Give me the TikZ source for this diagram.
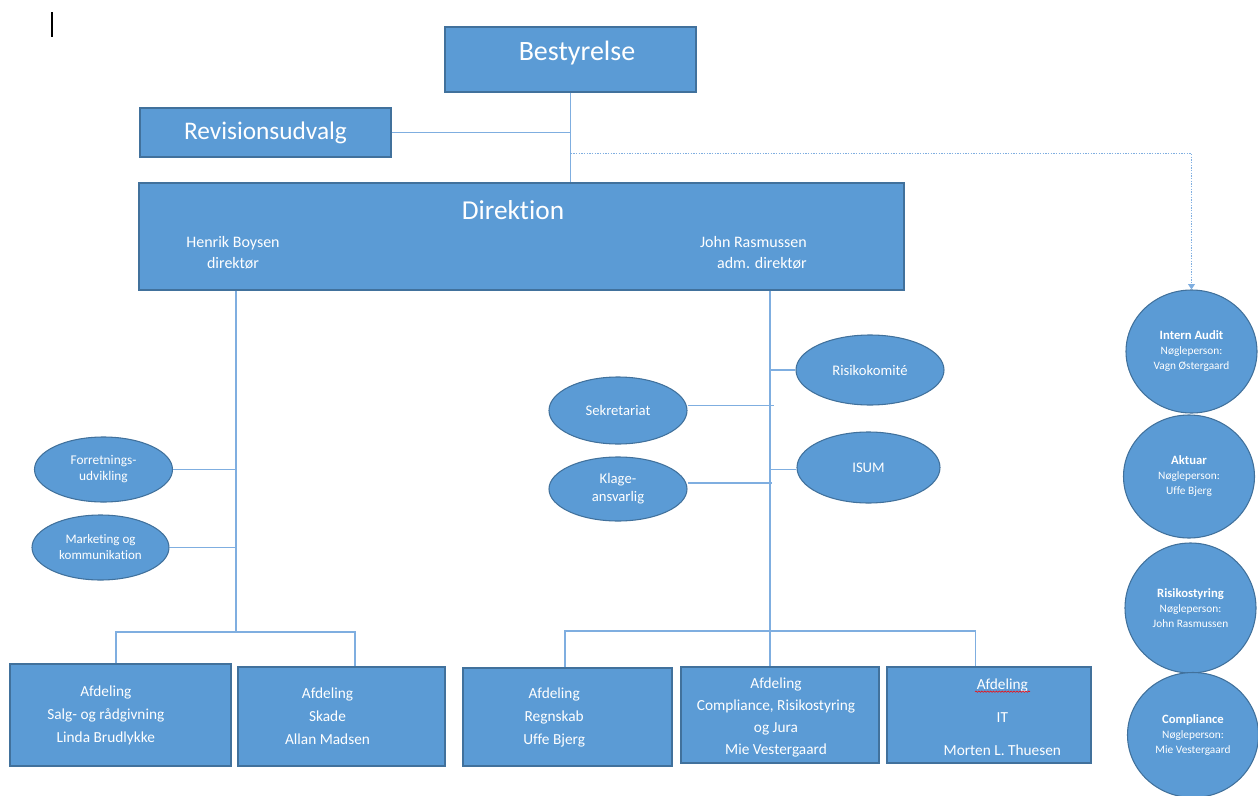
\documentclass[tikz,border=0pt]{standalone}
\usepackage{fontspec}
\setmainfont[Ligatures=NoCommon]{Carlito}
\usetikzlibrary{shapes.geometric}
\usetikzlibrary{arrows.meta}
\usetikzlibrary{decorations.pathmorphing}
\definecolor{boxfill}{HTML}{5B9BD5}
\definecolor{boxedge}{HTML}{41719C}
\definecolor{linkblue}{HTML}{7FAEE0}
\newcommand{\setfs}[2]{\fontsize{#1}{#2}\selectfont}
\tikzset{orgbox/.style={rectangle, draw=boxedge, fill=boxfill, line width=0.8pt,
         text=white, inner sep=0pt, align=center},
         orgell/.style={ellipse, draw=boxedge, fill=boxfill, line width=0.8pt,
         text=white, inner sep=0pt, align=center},
         orgtext/.style={text=white, inner sep=0pt, align=center},
         link/.style={draw=linkblue, line width=1pt}}

\begin{document}
\begin{tikzpicture}[x=0.75pt, y=-0.75pt]
        \useasboundingbox (0,0) rectangle (1258,796);
        \clip (0,0) rectangle (1258,796);

        % cursor mark
        \draw[line width=0.8pt] (52,12) -- (52,37);

        % Board and committee
        \node[orgbox, minimum width=188.25pt, minimum height=48.75pt] (best) at (570.5,59.5) {};
        \node[orgtext, font=\setfs{21}{24}] (besttxt) at (577,53) {Bestyrelse};
        \node[orgbox, minimum width=188.25pt, minimum height=36.75pt, font=\setfs{19}{22}] (rev) at (265.5,132.5) {Revisionsudvalg};

        % Management
        \node[orgbox, minimum width=573.75pt, minimum height=80.25pt] (dir) at (521.5,236.5) {};
        \node[orgtext, font=\setfs{20.5}{24}] (dirtitle) at (513,210) {Direktion};
        \node[orgtext, font=\setfs{12}{15.75}] (henrik) at (233,252.5) {Henrik Boysen\\direktør};
        \node[orgtext, align=right, anchor=east, font=\setfs{12}{15.75}] (john) at (807,252.5) {John Rasmussen\\adm. direktør};

        \draw[link] (best.south) -- (best.south |- dir.north);
        \draw[link] (rev.east) -- (rev.east -| best.south);
        \path (best.south) ++(0,61) coordinate (dtap);

        % Key functions
        \node[orgell, minimum width=98.25pt, minimum height=92.25pt, font=\setfs{8.5}{11.25}] (audit) at (1191.5,351.5)
              {{\setfs{9.5}{11.25}\bfseries Intern Audit}\\Nøgleperson:\\Vagn Østergaard};
        \node[orgell, minimum width=98.25pt, minimum height=92.25pt, font=\setfs{8.5}{11.25}] (aktuar) at (1189,476.5)
              {{\setfs{9.5}{11.25}\bfseries Aktuar}\\Nøgleperson:\\Uffe Bjerg};
        \node[orgell, minimum width=98.25pt, minimum height=97.5pt, font=\setfs{8.5}{11.25}] (risstyr) at (1190.5,608)
              {{\setfs{9.5}{11.25}\bfseries Risikostyring}\\Nøgleperson:\\John Rasmussen};
        \node[orgell, minimum width=98.25pt, minimum height=93.75pt, font=\setfs{8.5}{11.25}] (compl) at (1193,735)
              {{\setfs{9.5}{11.25}\bfseries Compliance}\\Nøgleperson:\\Mie Vestergaard};

        \draw[link, densely dotted, -{Triangle[width=5pt,length=4pt]}] (dtap) -| (audit.north);

        % Staff functions
        \node[orgell, minimum width=103.5pt, minimum height=48.75pt, font=\setfs{10}{12}] (forr) at (103.5,469.5) {Forretnings-\\udvikling};
        \node[orgell, minimum width=102.75pt, minimum height=48.75pt, font=\setfs{9.75}{12}] (mark) at (100.5,547.5) {Marketing og\\kommunikation};
        \node[orgell, minimum width=111pt, minimum height=52.5pt, font=\setfs{11}{13.5}] (risk) at (870,370) {Risikokomité};
        \node[orgell, minimum width=103.5pt, minimum height=50.25pt, font=\setfs{11}{13.5}] (sekr) at (618,410.5) {Sekretariat};
        \node[orgell, minimum width=107.25pt, minimum height=53.25pt, font=\setfs{11}{13.5}] (isum) at (868.5,467.5) {ISUM};
        \node[orgell, minimum width=103.5pt, minimum height=48pt, font=\setfs{11}{13.5}] (klage) at (618,489) {Klage-\\ansvarlig};

        % Departments
        \node[orgbox, minimum width=165.75pt, minimum height=76.5pt] (salg) at (120.5,715) {};
        \node[orgbox, minimum width=155.25pt, minimum height=74.25pt] (skade) at (341.5,716.5) {};
        \node[orgbox, minimum width=156.75pt, minimum height=73.5pt] (regn) at (567.5,717) {};
        \node[orgbox, minimum width=148.5pt, minimum height=72pt] (comp) at (780,715) {};
        \node[orgbox, minimum width=153pt, minimum height=72pt] (it) at (989,715) {};

        \node[orgtext, font=\setfs{11.5}{17.25}] (salgtxt) at ([xshift=-11pt]salg.center) {Afdeling\\Salg- og rådgivning\\Linda Brudlykke};
        \node[orgtext, font=\setfs{11.5}{17.25}] (skadetxt) at ([xshift=-10.5pt]skade.center) {Afdeling\\Skade\\Allan Madsen};
        \node[orgtext, font=\setfs{11.5}{17.25}] (regntxt) at ([xshift=-10pt]regn.center) {Afdeling\\Regnskab\\Uffe Bjerg};
        \node[orgtext, font=\setfs{11.5}{16.5}] (comptxt) at ([xshift=-3pt,yshift=-2pt]comp.center) {Afdeling\\Compliance, Risikostyring\\og Jura\\Mie Vestergaard};
        \node[orgtext, font=\setfs{11.5}{24.75}] (ittxt) at ([xshift=10pt,yshift=-1.5pt]it.center) {Afdeling\\IT\\Morten L. Thuesen};
        \draw[red, decorate, decoration={snake, amplitude=0.5pt, segment length=2.2pt}]
              ([xshift=-10.5pt,yshift=17.5pt]it.center) -- ++(55,0);

        % Left branch
        \coordinate (lbus) at (236,632);
        \draw[link] (dir.south -| lbus) -- (lbus);
        \draw[link] (forr.east) -- (forr.east -| lbus);
        \draw[link] (mark.east) -- (mark.east -| lbus);
        \draw[link] ([xshift=-3.5pt]salg.north) |- (lbus) -| ([xshift=10pt]skade.north);

        % Right branch
        \coordinate (rbus) at (770,631);
        \draw[link] (dir.south -| rbus) -- (rbus |- comp.north);
        \draw[link] (risk.west) -- (risk.west -| rbus);
        \draw[link] ([yshift=-1.5pt]isum.west) -- ([yshift=-1.5pt]isum.west -| rbus);
        \draw[link] ([yshift=4pt]sekr.east) -- ([xshift=3pt,yshift=4pt]sekr.east -| rbus);
        \draw[link] ([yshift=4.5pt]klage.east) -- ([xshift=1.5pt,yshift=4.5pt]klage.east -| rbus);
        \draw[link] ([xshift=-2pt]regn.north) |- (rbus) -| ([xshift=-10pt]it.north);
\end{tikzpicture}
\end{document}
